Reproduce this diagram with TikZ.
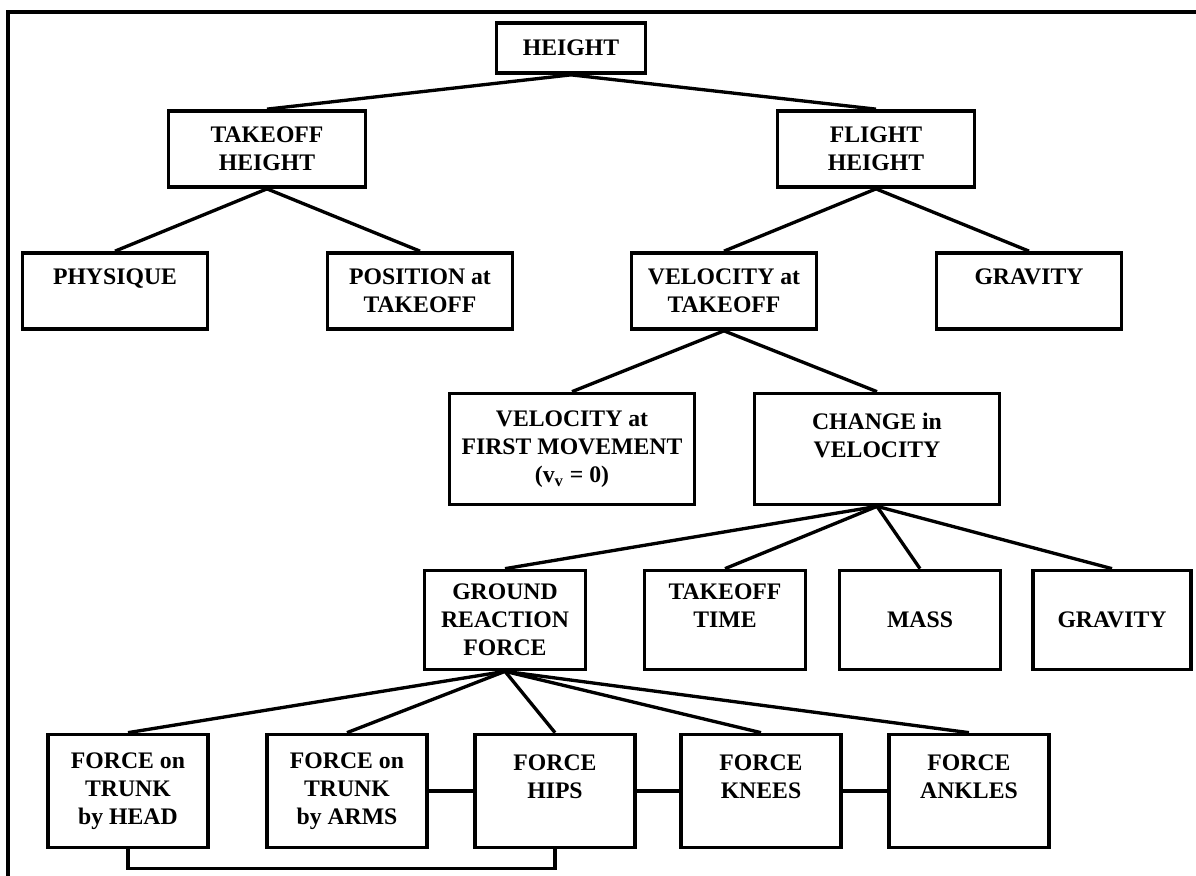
\documentclass[tikz,border=0pt]{standalone}
\usepackage{fontspec}
\setmainfont{Liberation Serif}
\usetikzlibrary{calc}

\begin{document}
\begin{tikzpicture}[
    box/.style={draw, line width=2.1pt, align=center, inner sep=0pt, font=\bfseries\fontsize{13.5}{15.9}\selectfont},
    rowtwo/.style={minimum width=3.94cm, minimum height=1.52cm},
    rowthree/.style={minimum width=3.7cm, minimum height=1.52cm},
    rowfour/.style={minimum width=4.9cm, minimum height=2.22cm},
    rowfive/.style={minimum width=3.22cm, minimum height=1.98cm},
    rowsix/.style={minimum width=3.2cm, minimum height=2.26cm},
    link/.style={line width=1.9pt}
]
\useasboundingbox (0,0) rectangle (23.92,-17.52);

% ---- Frame ----
\draw[line width=2.1pt] (0.16,-17.52) -- (0.16,-0.24) -- (23.92,-0.24);

% ---- Top levels ----
\node[box, minimum width=2.98cm, minimum height=1cm] (height) at (11.42,-0.96) {HEIGHT};
\node[box, rowtwo] (tkheight) at (5.34,-2.98) {TAKEOFF\\HEIGHT};
\node[box, rowtwo] (flheight) at (17.52,-2.98) {FLIGHT\\HEIGHT};

\node[box, rowthree] (physique) at (2.30,-5.82) {PHYSIQUE\\~};
\node[box, rowthree] (position) at (8.40,-5.82) {POSITION at\\TAKEOFF};
\node[box, rowthree] (veltk) at (14.48,-5.82) {VELOCITY at\\TAKEOFF};
\node[box, rowthree] (gravtop) at (20.58,-5.82) {GRAVITY\\~};

\node[box, rowfour] (velfirst) at (11.44,-8.98) {VELOCITY at\\FIRST MOVEMENT\\(v\textsubscript{v} = 0)};
\node[box, rowfour] (dvel) at (17.54,-8.98) {CHANGE in\\VELOCITY\\~};

% ---- Change in velocity ----
\node[box, rowfive] (grf) at (10.10,-12.40) {GROUND\\REACTION\\FORCE};
\node[box, rowfive] (tktime) at (14.50,-12.40) {TAKEOFF\\TIME\\~};
\node[box, rowfive] (mass) at (18.40,-12.40) {MASS};
\node[box, rowfive, minimum width=3.16cm] (gravlow) at (22.24,-12.40) {GRAVITY};

% ---- Joint forces ----
\node[box, rowsix] (fhead) at (2.56,-15.82) {FORCE on\\TRUNK\\by HEAD};
\node[box, rowsix] (farms) at (6.94,-15.82) {FORCE on\\TRUNK\\by ARMS};
\node[box, rowsix] (fhips) at (11.10,-15.82) {FORCE\\HIPS\\~};
\node[box, rowsix] (fknees) at (15.22,-15.82) {FORCE\\KNEES\\~};
\node[box, rowsix] (fankles) at (19.38,-15.82) {FORCE\\ANKLES\\~};

% ---- Tree lines ----
\draw[link] (height.south) -- (tkheight.north);
\draw[link] (height.south) -- (flheight.north);
\draw[link] (tkheight.south) -- (physique.north);
\draw[link] (tkheight.south) -- (position.north);
\draw[link] (flheight.south) -- (veltk.north);
\draw[link] (flheight.south) -- (gravtop.north);
\draw[link] (veltk.south) -- (velfirst.north);
\draw[link] (veltk.south) -- (dvel.north);
\draw[link] (dvel.south) -- (grf.north);
\draw[link] (dvel.south) -- (tktime.north);
\draw[link] (dvel.south) -- (mass.north);
\draw[link] (dvel.south) -- (gravlow.north);
\draw[link] (grf.south) -- (fhead.north);
\draw[link] (grf.south) -- (farms.north);
\draw[link] (grf.south) -- (fhips.north);
\draw[link] (grf.south) -- (fknees.north);
\draw[link] (grf.south) -- (fankles.north);

% ---- Links between segments ----
\draw[link] (farms.east) -- (fhips.west);
\draw[link] (fhips.east) -- (fknees.west);
\draw[link] (fknees.east) -- (fankles.west);
\draw[link] (fhead.south) -- ++(0,-0.38) -| (fhips.south);

\end{tikzpicture}
\end{document}
